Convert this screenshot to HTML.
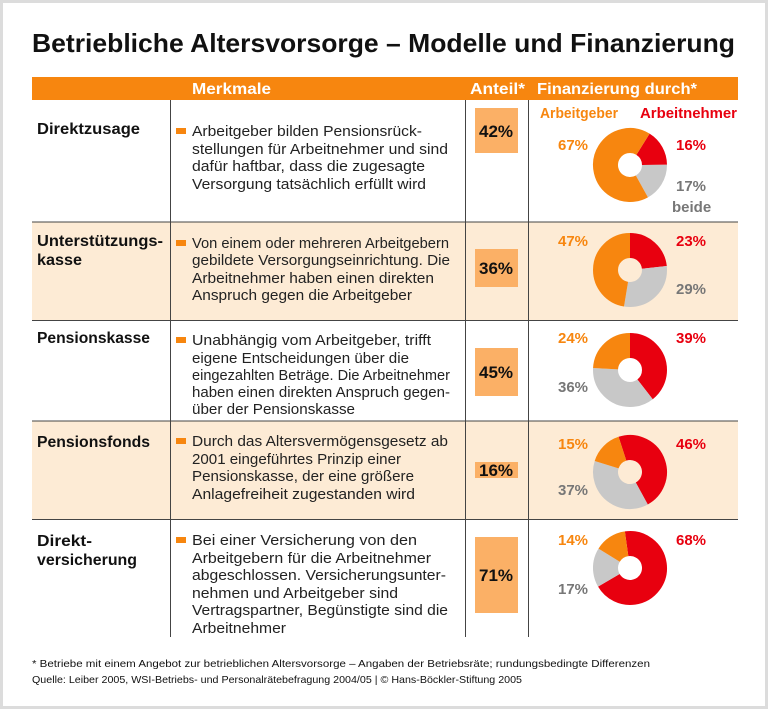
<!DOCTYPE html>
<html><head><meta charset="utf-8"><style>
html,body{margin:0;padding:0;background:#fff}
svg{display:block}
text{font-family:"Liberation Sans",sans-serif}
.b{font-weight:bold}
</style></head><body>
<svg width="768" height="709" viewBox="0 0 768 709" xmlns="http://www.w3.org/2000/svg">
<rect x="1.5" y="1.5" width="765" height="706" fill="#fff" stroke="#dcdcdc" stroke-width="3"/>
<text x="32" y="52" class="b" font-size="26" textLength="703" lengthAdjust="spacingAndGlyphs" fill="#111">Betriebliche Altersvorsorge – Modelle und Finanzierung</text>
<rect x="32" y="77" width="706" height="23" fill="#f7860f"/>
<text x="192" y="94" class="b" font-size="16" fill="#fff" textLength="79" lengthAdjust="spacingAndGlyphs">Merkmale</text>
<text x="470" y="94" class="b" font-size="16" fill="#fff" textLength="55" lengthAdjust="spacingAndGlyphs">Anteil*</text>
<text x="537" y="94" class="b" font-size="16" fill="#fff" textLength="160" lengthAdjust="spacingAndGlyphs">Finanzierung durch*</text>
<rect x="32" y="222" width="706" height="98" fill="#fdebd5"/>
<rect x="32" y="421" width="706" height="98" fill="#fdebd5"/>
<g stroke="#444" stroke-width="1">
<line x1="32" y1="222" x2="738" y2="222"/>
<line x1="32" y1="320.5" x2="738" y2="320.5"/>
<line x1="32" y1="421" x2="738" y2="421"/>
<line x1="32" y1="519.5" x2="738" y2="519.5"/>
<line x1="170.5" y1="100" x2="170.5" y2="637"/>
<line x1="465.5" y1="100" x2="465.5" y2="637"/>
<line x1="528.5" y1="100" x2="528.5" y2="637"/>
</g>
<g class="b" font-size="16" fill="#111" font-weight="bold">
<text x="37" y="134" textLength="103" lengthAdjust="spacingAndGlyphs">Direktzusage</text>
<text x="37" y="246" textLength="126" lengthAdjust="spacingAndGlyphs">Unterstützungs-</text>
<text x="37" y="265" textLength="45" lengthAdjust="spacingAndGlyphs">kasse</text>
<text x="37" y="343" textLength="113" lengthAdjust="spacingAndGlyphs">Pensionskasse</text>
<text x="37" y="447" textLength="113" lengthAdjust="spacingAndGlyphs">Pensionsfonds</text>
<text x="37" y="546" textLength="55" lengthAdjust="spacingAndGlyphs">Direkt-</text>
<text x="37" y="565" textLength="100" lengthAdjust="spacingAndGlyphs">versicherung</text>
</g>
<g fill="#f7860f">
<rect x="176" y="128" width="10" height="6"/>
<rect x="176" y="240" width="10" height="6"/>
<rect x="176" y="337" width="10" height="6"/>
<rect x="176" y="438" width="10" height="6"/>
<rect x="176" y="537" width="10" height="6"/>
</g>
<g font-size="15" fill="#222">
<text x="192" y="136" textLength="230" lengthAdjust="spacingAndGlyphs">Arbeitgeber bilden Pensionsrück-</text>
<text x="192" y="154" textLength="256" lengthAdjust="spacingAndGlyphs">stellungen für Arbeitnehmer und sind</text>
<text x="192" y="171" textLength="233" lengthAdjust="spacingAndGlyphs">dafür haftbar, dass die zugesagte</text>
<text x="192" y="189" textLength="234" lengthAdjust="spacingAndGlyphs">Versorgung tatsächlich erfüllt wird</text>

<text x="192" y="248" textLength="257" lengthAdjust="spacingAndGlyphs">Von einem oder mehreren Arbeitgebern</text>
<text x="192" y="265" textLength="258" lengthAdjust="spacingAndGlyphs">gebildete Versorgungseinrichtung. Die</text>
<text x="192" y="283" textLength="242" lengthAdjust="spacingAndGlyphs">Arbeitnehmer haben einen direkten</text>
<text x="192" y="300" textLength="220" lengthAdjust="spacingAndGlyphs">Anspruch gegen die Arbeitgeber</text>

<text x="192" y="345" textLength="239" lengthAdjust="spacingAndGlyphs">Unabhängig vom Arbeitgeber, trifft</text>
<text x="192" y="363" textLength="217" lengthAdjust="spacingAndGlyphs">eigene Entscheidungen über die</text>
<text x="192" y="380" textLength="258" lengthAdjust="spacingAndGlyphs">eingezahlten Beträge. Die Arbeitnehmer</text>
<text x="192" y="397" textLength="258" lengthAdjust="spacingAndGlyphs">haben einen direkten Anspruch gegen-</text>
<text x="192" y="414" textLength="163" lengthAdjust="spacingAndGlyphs">über der Pensionskasse</text>

<text x="192" y="446" textLength="256" lengthAdjust="spacingAndGlyphs">Durch das Altersvermögensgesetz ab</text>
<text x="192" y="464" textLength="209" lengthAdjust="spacingAndGlyphs">2001 eingeführtes Prinzip einer</text>
<text x="192" y="481" textLength="222" lengthAdjust="spacingAndGlyphs">Pensionskasse, der eine größere</text>
<text x="192" y="499" textLength="223" lengthAdjust="spacingAndGlyphs">Anlagefreiheit zugestanden wird</text>

<text x="192" y="545" textLength="225" lengthAdjust="spacingAndGlyphs">Bei einer Versicherung von den</text>
<text x="192" y="563" textLength="239" lengthAdjust="spacingAndGlyphs">Arbeitgebern für die Arbeitnehmer</text>
<text x="192" y="580" textLength="254" lengthAdjust="spacingAndGlyphs">abgeschlossen. Versicherungsunter-</text>
<text x="192" y="598" textLength="206" lengthAdjust="spacingAndGlyphs">nehmen und Arbeitgeber sind</text>
<text x="192" y="615" textLength="256" lengthAdjust="spacingAndGlyphs">Vertragspartner, Begünstigte sind die</text>
<text x="192" y="633" textLength="94" lengthAdjust="spacingAndGlyphs">Arbeitnehmer</text>
</g>
<g fill="#fbb066">
<rect x="475" y="108" width="43" height="45"/>
<rect x="475" y="249" width="43" height="38"/>
<rect x="475" y="348" width="43" height="48"/>
<rect x="475" y="462" width="43" height="16"/>
<rect x="475" y="537" width="43" height="76"/>
</g>
<g class="b" font-size="17" font-weight="bold" fill="#111" text-anchor="middle">
<text x="496" y="137">42%</text>
<text x="496" y="274">36%</text>
<text x="496" y="378">45%</text>
<text x="496" y="476">16%</text>
<text x="496" y="581">71%</text>
</g>
<text x="540" y="118" class="b" font-size="15" fill="#f7860f" textLength="78" lengthAdjust="spacingAndGlyphs">Arbeitgeber</text>
<text x="640" y="118" class="b" font-size="15" fill="#e8000f" textLength="97" lengthAdjust="spacingAndGlyphs">Arbeitnehmer</text>
<g fill="none" stroke-width="25">
<g transform="translate(630,165) rotate(-58)">
<circle r="24.5" stroke="#e8000f" stroke-dasharray="24.63 200"/>
<circle r="24.5" stroke="#c8c8c8" stroke-dasharray="26.17 200" stroke-dashoffset="-24.63"/>
<circle r="24.5" stroke="#f7860f" stroke-dasharray="103.14 200" stroke-dashoffset="-50.8"/>
</g>
<g transform="translate(630,270) rotate(-90)">
<circle r="24.5" stroke="#e8000f" stroke-dasharray="35.76 200"/>
<circle r="24.5" stroke="#c8c8c8" stroke-dasharray="45.09 200" stroke-dashoffset="-35.76"/>
<circle r="24.5" stroke="#f7860f" stroke-dasharray="73.09 200" stroke-dashoffset="-80.85"/>
</g>
<g transform="translate(630,370) rotate(-90)">
<circle r="24.5" stroke="#e8000f" stroke-dasharray="60.65 200"/>
<circle r="24.5" stroke="#c8c8c8" stroke-dasharray="55.95 200" stroke-dashoffset="-60.65"/>
<circle r="24.5" stroke="#f7860f" stroke-dasharray="37.34 200" stroke-dashoffset="-116.6"/>
</g>
<g transform="translate(630,472) rotate(-108)">
<circle r="24.5" stroke="#e8000f" stroke-dasharray="72.26 200"/>
<circle r="24.5" stroke="#c8c8c8" stroke-dasharray="58.12 200" stroke-dashoffset="-72.26"/>
<circle r="24.5" stroke="#f7860f" stroke-dasharray="23.56 200" stroke-dashoffset="-130.38"/>
</g>
<g transform="translate(630,568) rotate(-98)">
<circle r="24.5" stroke="#e8000f" stroke-dasharray="105.74 200"/>
<circle r="24.5" stroke="#c8c8c8" stroke-dasharray="26.43 200" stroke-dashoffset="-105.74"/>
<circle r="24.5" stroke="#f7860f" stroke-dasharray="21.77 200" stroke-dashoffset="-132.17"/>
</g>
</g>
<g class="b" font-size="15" font-weight="bold">
<text x="558" y="150" fill="#f7860f">67%</text>
<text x="676" y="150" fill="#e8000f">16%</text>
<text x="676" y="191" fill="#777">17%</text>
<text x="672" y="212" fill="#777">beide</text>
<text x="558" y="246" fill="#f7860f">47%</text>
<text x="676" y="246" fill="#e8000f">23%</text>
<text x="676" y="294" fill="#777">29%</text>
<text x="558" y="343" fill="#f7860f">24%</text>
<text x="676" y="343" fill="#e8000f">39%</text>
<text x="558" y="392" fill="#777">36%</text>
<text x="558" y="449" fill="#f7860f">15%</text>
<text x="676" y="449" fill="#e8000f">46%</text>
<text x="558" y="495" fill="#777">37%</text>
<text x="558" y="545" fill="#f7860f">14%</text>
<text x="676" y="545" fill="#e8000f">68%</text>
<text x="558" y="594" fill="#777">17%</text>
</g>
<text x="32" y="667" font-size="10.5" fill="#111" textLength="618" lengthAdjust="spacingAndGlyphs">* Betriebe mit einem Angebot zur betrieblichen Altersvorsorge – Angaben der Betriebsräte; rundungsbedingte Differenzen</text>
<text x="32" y="683" font-size="10.5" fill="#111" textLength="490" lengthAdjust="spacingAndGlyphs">Quelle: Leiber 2005, WSI-Betriebs- und Personalrätebefragung 2004/05 | © Hans-Böckler-Stiftung 2005</text>
</svg>
</body></html>
